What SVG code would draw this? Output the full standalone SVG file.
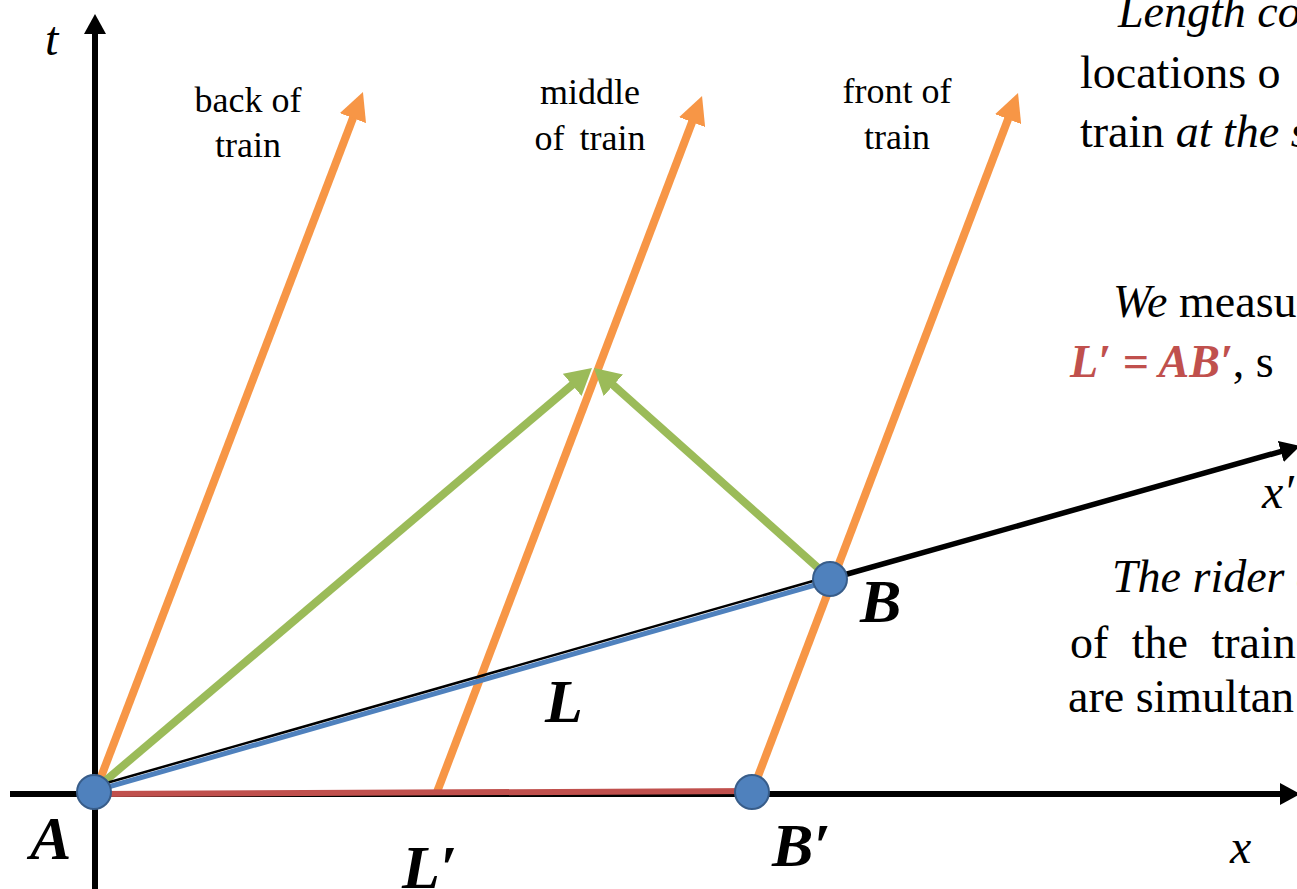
<svg xmlns="http://www.w3.org/2000/svg" width="1297" height="889" viewBox="0 0 1297 889">
<style>
.serif{font-family:"Liberation Serif","DejaVu Serif",serif;fill:#000}
.lbl{font-size:36px;text-anchor:middle}
.ax{font-size:48px;font-style:italic}
.big{font-size:62px;font-weight:bold;font-style:italic}
.body{font-size:46px}
.it{font-style:italic}
.red{fill:#C0504D;font-weight:bold;font-style:italic}
.orange{stroke:#F79646;stroke-width:8;fill:none}
.green{stroke:#9BBB59;stroke-width:8;fill:none}
.axis{stroke:#000;stroke-width:6;fill:none}
.pt{fill:#4F81BD;stroke:#385D8A;stroke-width:2}
</style>
<defs>
<marker id="ho" markerUnits="userSpaceOnUse" markerWidth="28" markerHeight="28" viewBox="0 0 28 28" refX="13" refY="14" orient="auto"><path d="M0,0 L28,14 L0,28 z" fill="#F79646"/></marker>
<marker id="hg" markerUnits="userSpaceOnUse" markerWidth="26" markerHeight="30" viewBox="0 0 26 30" refX="12" refY="15" orient="auto"><path d="M0,0.5 L26,15 L0,29.5 z" fill="#9BBB59"/></marker>
<marker id="hk" markerUnits="userSpaceOnUse" markerWidth="20" markerHeight="22" viewBox="0 0 20 22" refX="8" refY="11" orient="auto"><path d="M0,0 L20,11 L0,22 z" fill="#000"/></marker>
</defs>
<g id="connectors">
<line id="t-axis" class="axis" x1="95" y1="889" x2="95" y2="26" marker-end="url(#hk)"/>
<line id="x-axis" class="axis" x1="10" y1="794" x2="1288" y2="794" marker-end="url(#hk)"/>
<line id="back" class="orange" x1="96" y1="790" x2="357.6" y2="106" marker-end="url(#ho)"/>
<line id="middle" class="orange" x1="437" y1="792" x2="696.7" y2="110" marker-end="url(#ho)"/>
<line id="front" class="orange" x1="752" y1="792" x2="1012.7" y2="107" marker-end="url(#ho)"/>
<line id="green-left" class="green" x1="98" y1="787" x2="581.3" y2="377.1" marker-end="url(#hg)"/>
<line id="green-right" class="green" x1="826" y1="575" x2="604.4" y2="377.3" marker-end="url(#hg)"/>
<line id="xprime-thin" stroke="#000" stroke-width="2.5" x1="96" y1="786" x2="820" y2="579"/>
<line id="xprime-axis" stroke="#000" stroke-width="5.5" x1="826" y1="580" x2="1288.5" y2="449.3" marker-end="url(#hk)"/>
<line id="L" stroke="#4F81BD" stroke-width="5" x1="94" y1="791" x2="822" y2="583"/>
<line id="Lprime" stroke="#C0504D" stroke-width="6" x1="94" y1="794" x2="758" y2="791"/>
</g>
<g id="node-A"><circle class="pt" cx="94" cy="792" r="17"/><text class="serif big" x="30" y="859">A</text></g>
<g id="node-B"><circle class="pt" cx="830" cy="579" r="17"/><text class="serif big" x="860" y="622">B</text></g>
<g id="node-Bp"><circle class="pt" cx="752" cy="792" r="17"/><text class="serif big" x="772" y="866">B′</text></g>
<g id="labels">
<text class="serif big" x="545" y="722" font-size="64">L</text>
<text class="serif big" x="402" y="888">L′</text>
<text class="serif ax" x="45" y="55">t</text>
<text class="serif ax" x="1230" y="863">x</text>
<text class="serif ax" x="1262" y="508">x′</text>
<text class="serif lbl" x="248" y="112">back of</text>
<text class="serif lbl" x="248" y="157">train</text>
<text class="serif lbl" x="590" y="104">middle</text>
<text class="serif lbl" x="590" y="150" word-spacing="6">of train</text>
<text class="serif lbl" x="897" y="103">front of</text>
<text class="serif lbl" x="897" y="149">train</text>
</g>
<g id="notes" class="serif body">
<text x="1118" y="27" class="it">Length con</text>
<text x="1080" y="88">locations o</text>
<text x="1080" y="147">train <tspan class="it">at the s</tspan></text>
<text x="1113" y="317"><tspan class="it">We</tspan> measu</text>
<text x="1070" y="377"><tspan class="red">L′ = AB′</tspan>, s</text>
<text x="1112" y="592" class="it">The rider o</text>
<text x="1070" y="658" word-spacing="12">of the train</text>
<text x="1068" y="712">are simultan</text>
</g>
</svg>
